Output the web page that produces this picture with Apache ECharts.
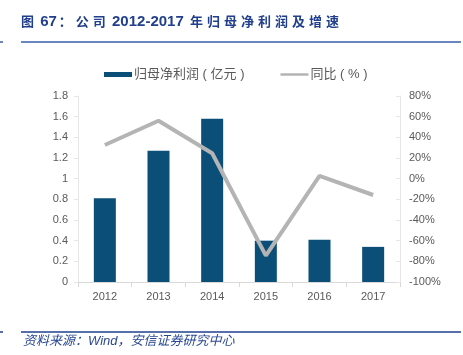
<!DOCTYPE html>
<html><head><meta charset="utf-8">
<script src="https://cdn.jsdelivr.net/npm/echarts@6/dist/echarts.min.js"></script>
<style>html,body{margin:0;padding:0;background:#fff}#c{width:463px;height:355px}</style>
</head><body><div id="c"></div>
<script>
const categories = ['2012','2013','2014','2015','2016','2017'];
const profit = [0.81, 1.27, 1.58, 0.40, 0.41, 0.34];
const growth = [32.6, 56, 24.6, -74.5, 2.6, -15.8];
const leftTicks = [0, 0.2, 0.4, 0.6, 0.8, 1, 1.2, 1.4, 1.6, 1.8];
const rightTicks = [-100, -80, -60, -40, -20, 0, 20, 40, 60, 80];

const font = '"Liberation Sans", Arial, "Noto Sans CJK SC", sans-serif';
const cj = s => s.split('').map(ch => '{c|' + ch + '}').join('');
const titleText = cj('图') + '{d| 67}' + cj('：公司') + '{d| 2012-2017 }' + cj('年归母净利润及增速');

const chart = echarts.init(document.getElementById('c'));
chart.setOption({
  animation: false,
  textStyle: {fontFamily: font},
  legend: {
    top: 63, left: 99, itemGap: 36, itemWidth: 28, itemHeight: 6,
    textStyle: {fontSize: 13, color: '#595959', fontFamily: font, padding: [0, 0, 0, -3]},
    data: [
      {name: '归母净利润 ( 亿元 )', icon: 'path://M0,0 L28,0 L28,5 L0,5 Z'},
      {name: '同比 ( % )', icon: 'path://M0,0 L28,0 L28,2.5 L0,2.5 Z'}
    ]
  },
  grid: {left: 78, right: 63, top: 96, bottom: 73},
  xAxis: {
    type: 'category', data: categories,
    axisLine: {lineStyle: {color: '#d9d9d9'}},
    axisTick: {show: true, lineStyle: {color: '#d9d9d9'}},
    axisLabel: {color: '#595959', fontSize: 11, margin: 9}
  },
  yAxis: [{
    type: 'value', min: 0, max: 1.8, interval: 0.2,
    axisLine: {show: true, lineStyle: {color: '#e6e6e6'}},
    axisTick: {show: true, length: 4, lineStyle: {color: '#e6e6e6'}},
    splitLine: {show: false},
    axisLabel: {color: '#595959', fontSize: 11, margin: 10, formatter: v => String(Math.round(v*10)/10)}
  }, {
    type: 'value', min: -100, max: 80, interval: 20,
    axisLine: {show: true, lineStyle: {color: '#e6e6e6'}},
    axisTick: {show: true, length: 4, inside: true, lineStyle: {color: '#e6e6e6'}},
    splitLine: {show: false},
    axisLabel: {color: '#595959', fontSize: 11, margin: 9, formatter: '{value}%'}
  }],
  series: [{
    name: '归母净利润 ( 亿元 )', type: 'bar', data: profit, barWidth: 22,
    itemStyle: {color: '#0b4f79'}
  }, {
    name: '同比 ( % )', type: 'line', yAxisIndex: 1, data: growth,
    symbol: 'none', lineStyle: {color: '#b4b4b4', width: 4}, itemStyle: {color: '#b4b4b4'}
  }],
  graphic: [
    {type: 'text', left: 21, top: 14, style: {
      text: titleText, fill: '#213f8c',
      rich: {
        c: {fontSize: 13, fontWeight: 'bold', fontFamily: '"Noto Sans CJK SC", sans-serif', padding: [0, 2, 0, 2], fill: '#213f8c'},
        d: {fontSize: 15, fontWeight: 'bold', fontFamily: '"Liberation Sans", Arial, sans-serif', fill: '#213f8c'}
      }
    }},
    {type: 'line', shape: {x1: 21, y1: 42, x2: 461, y2: 42}, style: {stroke: '#3a5ea8', lineWidth: 1.5}},
    {type: 'line', shape: {x1: 0, y1: 42, x2: 3, y2: 42}, style: {stroke: '#3a5ea8', lineWidth: 1.5}},
    {type: 'line', shape: {x1: 21, y1: 332, x2: 461, y2: 332}, style: {stroke: '#1f3f8f', lineWidth: 1.5}},
    {type: 'line', shape: {x1: 0, y1: 332, x2: 3, y2: 332}, style: {stroke: '#1f3f8f', lineWidth: 1.5}},
    {type: 'text', left: 23, top: 335, style: {text: '资料来源：Wind，安信证券研究中心', fill: '#2a4894', font: 'italic 13px "Liberation Sans", "Noto Sans CJK SC", sans-serif'}}
  ]
});
</script></body></html>
